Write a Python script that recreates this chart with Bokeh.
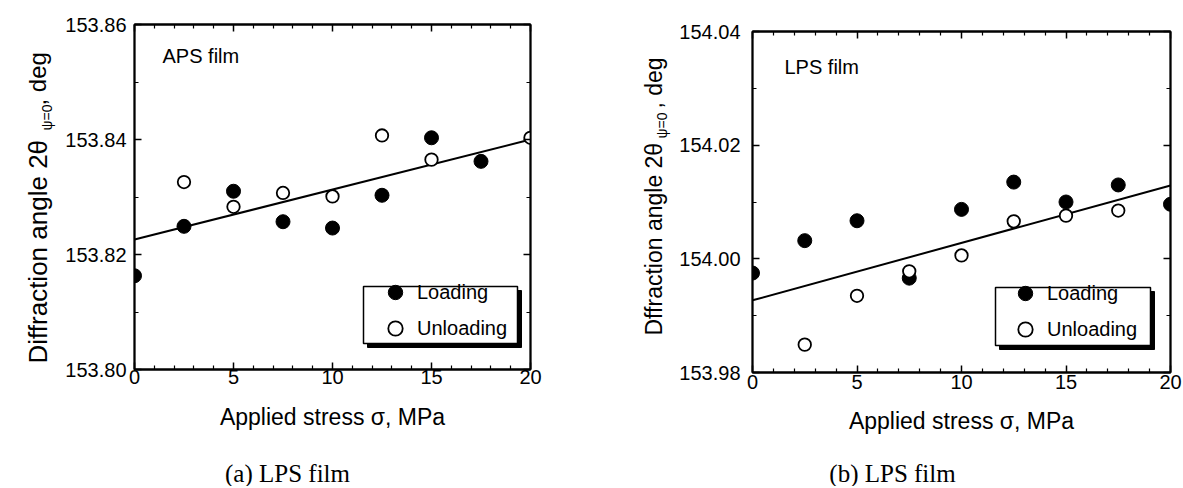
import math
from bokeh.plotting import figure
from bokeh.models import (Range1d, FixedTicker, LinearAxis, PrintfTickFormatter,
                          Legend, LegendItem, BoxAnnotation, Label, Spacer)
from bokeh.layouts import row, column
from bokeh.core.properties import value
from bokeh.embed import file_html
from bokeh.resources import INLINE

# ---------------- data ----------------
x_ticks = [0, 5, 10, 15, 20]

# (a) APS film
aps_load_x = [0, 2.5, 5, 7.5, 10, 12.5, 15, 17.5]
aps_load_y = [153.8163, 153.8249, 153.8310, 153.8257, 153.8246, 153.8303, 153.8403, 153.8362]
aps_unload_x = [2.5, 5, 7.5, 10, 12.5, 15, 20]
aps_unload_y = [153.8326, 153.8283, 153.8307, 153.8301, 153.8407, 153.8365, 153.8403]
aps_fit_x = [0, 20]
aps_fit_y = [153.8226, 153.8400]
aps_y_ticks = [153.80, 153.82, 153.84, 153.86]

# (b) LPS film
lps_load_x = [0, 2.5, 5, 7.5, 10, 12.5, 15, 17.5, 20]
lps_load_y = [153.9975, 154.0032, 154.0067, 153.9966, 154.0087, 154.0135, 154.0100, 154.0130, 154.0096]
lps_unload_x = [2.5, 5, 7.5, 10, 12.5, 15, 17.5]
lps_unload_y = [153.9849, 153.9935, 153.9978, 154.0006, 154.0066, 154.0076, 154.0085]
lps_fit_x = [0, 20]
lps_fit_y = [153.9927, 154.0129]
lps_y_ticks = [153.98, 154.00, 154.02, 154.04]

x_label = "Applied stress \u03c3, MPa"
legend_labels = ["Loading", "Unloading"]
captions = ["(a) LPS film", "(b) LPS film"]

SANS = "Liberation Sans"
SERIF = "Liberation Serif"
BT, BB = 24, 78          # common top / bottom borders of all row members
FH1 = 345                # frame height of panel (a) and of the label strips
P2_SHIFT = 7             # panel (b) frame starts this much lower
CAP_H = 36
LAB1_W, LAB2_W = 62, 73


def minor_between(ticks, n):
    out = []
    for a, b in zip(ticks[:-1], ticks[1:]):
        step = (b - a) / n
        out += [a + k * step for k in range(1, n)]
    return out


def style_axis(ax, ticks, minor, fmt, show_labels, standoff):
    ax.ticker = FixedTicker(ticks=ticks, minor_ticks=minor)
    ax.formatter = PrintfTickFormatter(format=fmt)
    ax.axis_line_color = "black"
    ax.axis_line_width = 1.8
    ax.major_tick_line_color = "black"
    ax.major_tick_line_width = 1.5
    ax.minor_tick_line_color = "black"
    ax.minor_tick_line_width = 1.2
    ax.major_tick_in = 7
    ax.major_tick_out = 0
    ax.minor_tick_in = 4
    ax.minor_tick_out = 0
    ax.major_label_text_font = SANS
    ax.major_label_standoff = standoff
    if show_labels:
        ax.major_label_text_font_size = "20px"
        ax.major_label_text_color = "black"
    else:
        ax.major_label_text_font_size = "1px"
        ax.major_label_text_alpha = 0
        ax.major_label_text_color = None


def text_strip(width, height, bt=0, bb=0):
    s = figure(frame_width=width, frame_height=height,
               x_range=Range1d(0, width), y_range=Range1d(0, height),
               min_border_left=0, min_border_right=0, min_border_top=bt, min_border_bottom=bb,
               x_axis_type=None, y_axis_type=None,
               output_backend="svg", toolbar_location=None)
    s.outline_line_color = None
    s.xgrid.visible = False
    s.ygrid.visible = False
    s.background_fill_color = "white"
    s.border_fill_color = "white"
    return s


def make_panel(cfg):
    fw, fh = cfg["frame_w"], cfg["frame_h"]
    y0, y1 = cfg["y_ticks"][0], cfg["y_ticks"][-1]
    p = figure(frame_width=fw, frame_height=fh,
               x_range=Range1d(x_ticks[0], x_ticks[-1]), y_range=Range1d(y0, y1),
               min_border_left=cfg["bl"], min_border_right=cfg["br"],
               min_border_top=BT, min_border_bottom=BB,
               output_backend="svg", toolbar_location=None)
    p.background_fill_color = "white"
    p.border_fill_color = "white"
    p.outline_line_color = "black"
    p.outline_line_width = 1.8
    p.xgrid.visible = False
    p.ygrid.visible = False

    xmin = minor_between(x_ticks, 5)
    ymin = minor_between(cfg["y_ticks"], 2)
    xa = p.below[0]
    ya = p.left[0]
    style_axis(xa, x_ticks, xmin, "%d", True, cfg["x_standoff"])
    style_axis(ya, cfg["y_ticks"], ymin, "%.2f", True, cfg["y_standoff"])
    xa.axis_label = x_label
    xa.axis_label_text_font = SANS
    xa.axis_label_text_font_size = "23px"
    xa.axis_label_text_font_style = "normal"
    xa.axis_label_text_color = "black"
    xa.axis_label_standoff = cfg["xlabel_standoff"]

    top = LinearAxis()
    style_axis(top, x_ticks, xmin, "%d", False, 0)
    p.add_layout(top, "above")
    right = LinearAxis()
    style_axis(right, cfg["y_ticks"], ymin, "%.2f", False, 0)
    p.add_layout(right, "right")

    # fit line and data
    p.line(cfg["fit_x"], cfg["fit_y"], line_color="black", line_width=2)
    r_load = p.scatter(cfg["load_x"], cfg["load_y"], marker="circle", size=14,
                       fill_color="black", line_color="black", line_width=1)
    r_unload = p.scatter(cfg["unload_x"], cfg["unload_y"], marker="circle", size=12.5,
                         fill_color="white", line_color="black", line_width=1.8)

    # legend box with drop shadow (positions in frame pixels -> data)
    def dx(px):
        return x_ticks[0] + px / fw * (x_ticks[-1] - x_ticks[0])

    def dy(py):
        return y0 + py / fh * (y1 - y0)

    bl, br, bb, bt = cfg["box"]
    sh = 4
    p.add_layout(BoxAnnotation(left=dx(bl + sh), right=dx(br + sh), bottom=dy(bb - sh), top=dy(bt - sh),
                               fill_color="black", fill_alpha=1, line_color="black", line_alpha=1,
                               line_width=1))
    p.add_layout(BoxAnnotation(left=dx(bl), right=dx(br), bottom=dy(bb), top=dy(bt),
                               fill_color="white", fill_alpha=1, line_color="black", line_alpha=1,
                               line_width=1.5))

    legend = Legend(items=[LegendItem(label=legend_labels[0], renderers=[r_load]),
                           LegendItem(label=legend_labels[1], renderers=[r_unload])],
                    location=cfg["legend_loc"], padding=0, spacing=-11, margin=0,
                    glyph_width=44, glyph_height=36, label_height=36, label_standoff=0,
                    label_text_font=SANS, label_text_font_size="20px",
                    label_text_color="black", background_fill_alpha=0,
                    border_line_color=None)
    p.add_layout(legend)

    # inner film label
    p.add_layout(Label(x=cfg["film_pos"][0], y=cfg["film_pos"][1], x_units="screen", y_units="screen",
                       text=cfg["film"], text_font=SANS, text_font_size="20px",
                       text_color="black", text_baseline="alphabetic", text_align="left"))
    return p


def make_ylabel(width, pieces):
    s = text_strip(width, FH1, BT, BB)
    for txt, (x, y), fs in pieces:
        s.text(x=[x], y=[y], text=[txt], angle=math.pi / 2,
               text_font=value(SANS), text_font_size=fs, text_color="black",
               text_baseline="alphabetic", text_align="left")
    return s


cfg_a = dict(frame_w=396, frame_h=FH1, bl=72, br=68,
             y_ticks=aps_y_ticks, load_x=aps_load_x, load_y=aps_load_y,
             unload_x=aps_unload_x, unload_y=aps_unload_y, fit_x=aps_fit_x, fit_y=aps_fit_y,
             x_standoff=0, y_standoff=8, xlabel_standoff=17,
             box=(229, 383, 26, 83), legend_loc=(239, 23),
             film="APS film", film_pos=(28, 314))

cfg_b = dict(frame_w=418, frame_h=341, bl=81, br=12,
             y_ticks=lps_y_ticks, load_x=lps_load_x, load_y=lps_load_y,
             unload_x=lps_unload_x, unload_y=lps_unload_y, fit_x=lps_fit_x, fit_y=lps_fit_y,
             x_standoff=2, y_standoff=12, xlabel_standoff=16,
             box=(243, 398, 27, 85), legend_loc=(251, 25),
             film="LPS film", film_pos=(32, 306))

# label strips: frame spans page y 24..369, local y measured up from 369
lab1 = make_ylabel(LAB1_W, [("Diffraction angle 2\u03b8", (37, 6), "26px"),
                            ("\u03c8=0", (46, 239), "14px"),
                            (", deg", (37, 264), "24px")])
lab2 = make_ylabel(LAB2_W, [("Dffraction angle 2\u03b8", (55, 34), "23px"),
                            ("\u03c8=0", (63, 231), "14px"),
                            (", deg", (55, 261), "23px")])

p1 = make_panel(cfg_a)
p2 = make_panel(cfg_b)
p2_col = column(Spacer(width=81 + 418 + 12, height=P2_SHIFT), p2)

TOTAL_W = LAB1_W + (72 + 396 + 68) + LAB2_W + (81 + 418 + 12)
cap = text_strip(TOTAL_W, CAP_H)
cap.text(x=[287, 892], y=[13, 13], text=captions,
         text_font=value(SERIF), text_font_size="25px", text_color="black",
         text_baseline="middle", text_align="center")

layout = column(row(lab1, p1, lab2, p2_col), cap)

open("out.html", "w").write(file_html(layout, INLINE))
